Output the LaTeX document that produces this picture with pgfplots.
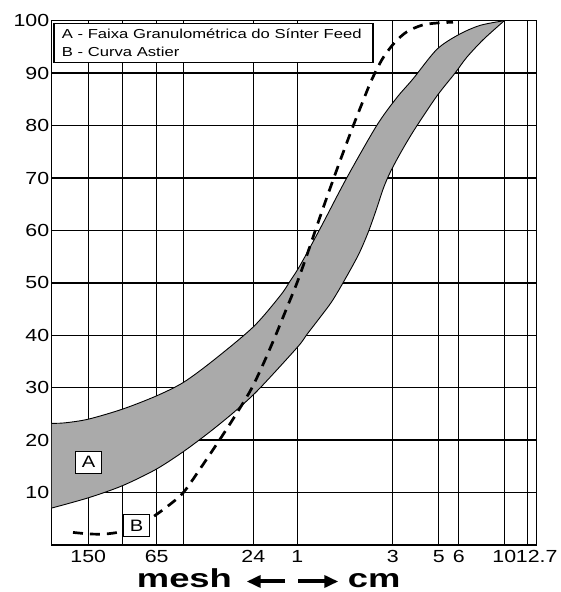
\documentclass[border=0pt]{standalone}
\usepackage{fontspec}
\setmainfont{Liberation Sans}
\newfontfamily\tickfont[FakeStretch=1.22]{Liberation Sans}
\newfontfamily\legfont[FakeStretch=1.28]{Liberation Sans}
\newfontfamily\meshfont[FakeStretch=1.4]{Liberation Sans}
\usepackage{pgfplots}
\pgfplotsset{compat=1.18}
\usepackage{pgfplotstable}
\usepgfplotslibrary{fillbetween}
\usetikzlibrary{arrows.meta}
\definecolor{band}{RGB}{170,170,170}

\pgfplotstableread{
x y
51.7 23.2
65 23.3
88.3 24.0
122.3 25.9
156 28.4
183.3 31.0
213.3 35.2
253.3 41.6
280 47.5
290 50.3
300 53.3
320 60.3
346.7 70.0
376.7 80.0
396.7 85.3
413 88.9
436.7 94.5
458.3 97.3
480 99.1
504.3 100
}\bandup

\pgfplotstableread{
x y
51.7 7.05
88.3 9.0
122.3 11.3
155.7 14.4
183.3 17.8
210 21.6
235 25.5
258.3 29.6
297.3 37.7
306.7 40.1
320 43.4
331.7 46.4
343.3 50.1
358.3 55.3
368.3 59.7
376.7 64.2
383.3 68.0
390 71.0
400 74.6
411.7 78.4
425 82.3
438.3 86.0
455 90.0
466.7 93.0
483.3 96.4
504.3 100
}\bandlo

\pgfplotstableread{
x y
73 2.4
90 2.1
105 2.1
120 2.5
135 3.5
150 5.0
167 7.3
183.3 10
200 14.5
218 19.6
232 23.7
250 29.3
262 34
275 39.7
287 45.3
297 50
306 54.8
315 59.8
325 65.3
338 72.2
351.7 79.2
362 84.2
370 88
377 90.8
384 93.2
395 95.9
407 97.9
423 99.2
440 99.6
453 99.7
}\astier

\begin{document}
\begin{tikzpicture}
\begin{axis}[
  at={(51.7pt,47pt)}, anchor=south west,
  scale only axis, width=485pt, height=524.3pt,
  xmin=51.7, xmax=536.7, ymin=0, ymax=100,
  xtick={88.3,122.7,156.7,183.3,253.3,297.3,392.7,438.7,458.7,504.3,527.7,536.7},
  xticklabels={150,,65,,24,1,3,5,6,10,,12.7},
  ytick={10,20,30,40,50,60,70,80,90,100},
  yticklabels={10,20,30,40,50,60,70,80,90,100},
  major tick length=0pt,
  grid=major,
  major grid style={black, line width=1.4pt},
  axis line style={black, line width=1.5pt},
  /pgf/number format/assume math mode=true,
  ticklabel style={font=\tickfont\fontsize{17.5}{20}\selectfont, text=black},
  xticklabel style={yshift=-2pt},
  yticklabel style={xshift=1pt},
]
\addplot[draw=none, smooth, name path=up] table {\bandup};
\addplot[draw=none, smooth, name path=lo] table {\bandlo};
\addplot[fill=band, draw=none] fill between[of=up and lo];
\addplot[black, line width=0.9pt, smooth] table {\bandup};
\addplot[black, line width=0.9pt, smooth] table {\bandlo};
\addplot[black, line width=0.9pt] coordinates {(51.7,7.05) (51.7,23.2)};
\addplot[black, line width=2.7pt, smooth, dash pattern=on 10pt off 7pt] table {\astier};
\node[draw=black, fill=white, line width=1.2pt, minimum width=26pt, minimum height=22pt, inner sep=0pt,
  font=\tickfont\fontsize{16.5}{18}\selectfont] at (axis cs:88.7,15.8) {A};
\node[draw=black, fill=white, line width=1.2pt, minimum width=26pt, minimum height=22pt, inner sep=0pt,
  font=\tickfont\fontsize{16.5}{18}\selectfont] at (axis cs:136.7,3.7) {B};
\end{axis}
\draw[line width=1.2pt, fill=white] (54pt,529.7pt) rectangle (373pt,568.7pt);
\node[anchor=base west, inner sep=0pt, font=\legfont\fontsize{13}{15}\selectfont] at (61.7pt,553.7pt) {A - Faixa Granulométrica do Sínter Feed};
\node[anchor=base west, inner sep=0pt, font=\legfont\fontsize{13}{15}\selectfont] at (61.7pt,535.3pt) {B - Curva Astier};
\node[anchor=base west, inner sep=0pt, font=\meshfont\bfseries\fontsize{26}{30}\selectfont] at (136.7pt,4.6pt) {mesh};
\node[anchor=base west, inner sep=0pt, font=\meshfont\bfseries\fontsize{26}{30}\selectfont] at (347.7pt,4.6pt) {cm};
\draw[line width=4pt, -{Triangle[length=14pt,width=12pt]}] (285pt,10.5pt) -- (246.7pt,10.5pt);
\draw[line width=4pt, -{Triangle[length=14pt,width=12pt]}] (298.3pt,10.5pt) -- (338.3pt,10.5pt);
\pgfresetboundingbox
\path (0,0) rectangle (561pt,592pt);
\end{tikzpicture}
\end{document}
